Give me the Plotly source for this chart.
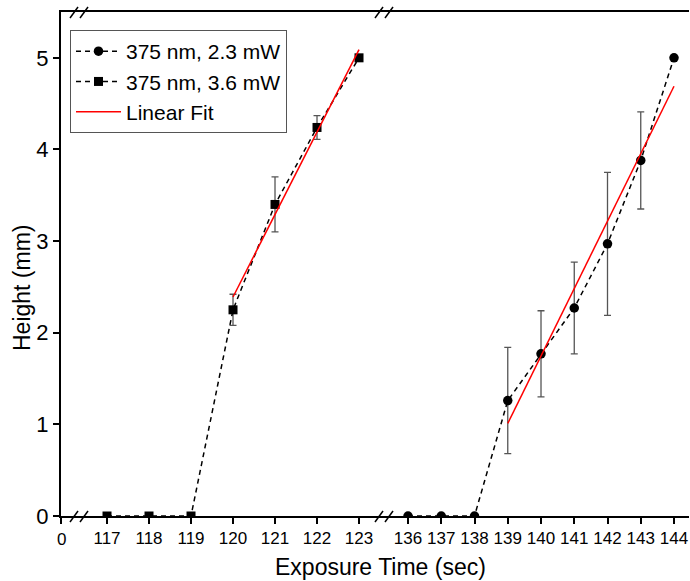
import plotly.graph_objects as go

# ---- data ----
t_36 = [117, 118, 119, 120, 121, 122, 123]
h_36 = [0, 0, 0, 2.25, 3.40, 4.24, 5.0]
e_36 = [0, 0, 0, 0.17, 0.30, 0.13, 0]

t_23 = [136, 137, 138, 139, 140, 141, 142, 143, 144]
h_23 = [0, 0, 0, 1.26, 1.77, 2.27, 2.97, 3.88, 5.0]
e_23 = [0, 0, 0, 0.58, 0.47, 0.50, 0.78, 0.53, 0]

fit_left_x = [120, 123]
fit_left_y = [2.39, 5.09]
fit_right_x = [139, 144]
fit_right_y = [1.01, 4.69]

ticks_a = [0]
ticks_b = [117, 118, 119, 120, 121, 122, 123]
ticks_c = [136, 137, 138, 139, 140, 141, 142, 143, 144]
y_ticks = [0, 1, 2, 3, 4, 5]

W, H = 690, 581
# plot area in page pixels
PL, PR, PT, PB = 61, 689, 12, 516
L, R, T, B = PL, W - PR, PT, H - PB
pw = PR - PL
ph = PB - PT


def px(xp):
    return (xp - PL) / pw


def py(yp):
    return (PB - yp) / ph


brk1 = px(79)
brk2 = px(384)

FONT = "Liberation Sans, Arial, sans-serif"
err_col = "#555555"

fig = go.Figure()

fig.add_trace(go.Scatter(
    x=t_23, y=h_23, xaxis="x3", yaxis="y", name="375 nm, 2.3 mW",
    mode="lines+markers",
    line=dict(color="black", width=1.5, dash="5px,4px"),
    marker=dict(symbol="circle", size=9.5, color="black"),
    error_y=dict(type="data", array=e_23, visible=True, color=err_col, thickness=1.3, width=3.5),
))
fig.add_trace(go.Scatter(
    x=t_36, y=h_36, xaxis="x2", yaxis="y", name="375 nm, 3.6 mW",
    mode="lines+markers",
    line=dict(color="black", width=1.5, dash="5px,4px"),
    marker=dict(symbol="square", size=9, color="black"),
    error_y=dict(type="data", array=e_36, visible=True, color=err_col, thickness=1.3, width=3.5),
))
fig.add_trace(go.Scatter(
    x=fit_left_x, y=fit_left_y, xaxis="x2", yaxis="y", name="Linear Fit",
    mode="lines", line=dict(color="red", width=1.5), legendgroup="fit",
))
fig.add_trace(go.Scatter(
    x=fit_right_x, y=fit_right_y, xaxis="x3", yaxis="y", name="Linear Fit",
    mode="lines", line=dict(color="red", width=1.5), legendgroup="fit", showlegend=False,
))

axis_common = dict(
    showline=True, linecolor="black", linewidth=2, mirror=True,
    ticks="outside", ticklen=6, tickwidth=1.5, tickcolor="black",
    showgrid=False, zeroline=False, anchor="y",
    ticklabeloverflow="allow",
    tickfont=dict(family=FONT, size=17, color="black"),
)

shapes = []
# break marks (bottom and top) at both breaks
for bx in (79, 384):
    for yc in (516.5, 12.5):
        for dx in (-5, 5):
            cx = bx + dx
            shapes.append(dict(
                type="line", xref="paper", yref="paper",
                x0=px(cx - 4), x1=px(cx + 4),
                y0=py(yc + 5.5), y1=py(yc - 5.5),
                line=dict(color="black", width=1.5),
            ))

# tick label of the short first segment (placed through that axis' scale)
seg_a_labels = [dict(
    text=str(v), xref="x", yref="paper", x=v, y=py(539),
    xanchor="center", yanchor="middle", showarrow=False,
    font=dict(family=FONT, size=17, color="black"),
) for v in ticks_a]

fig.update_layout(
    width=W, height=H,
    margin=dict(l=L, r=R, t=T, b=B, autoexpand=False),
    paper_bgcolor="white", plot_bgcolor="white",
    font=dict(family=FONT, color="black"),
    xaxis=dict(domain=[0, brk1], range=[0, 1], tickvals=ticks_a,
               **{**axis_common, "showticklabels": False}),
    xaxis2=dict(domain=[brk1, brk2], range=[116.333, 123.595], tickvals=ticks_b, **axis_common),
    xaxis3=dict(domain=[brk2, 1], range=[135.278, 144.451], tickvals=ticks_c, **axis_common),
    yaxis=dict(
        range=[0, 5.5], tickvals=y_ticks, anchor="x",
        showline=True, linecolor="black", linewidth=2,
        ticks="outside", ticklen=6, tickwidth=1.5, tickcolor="black",
        showgrid=False, zeroline=False,
        tickfont=dict(family=FONT, size=22, color="black"),
    ),
    shapes=shapes,
    annotations=seg_a_labels + [
        dict(
            text="Exposure Time (sec)", xref="paper", yref="paper",
            x=px(380), y=py(567),
            xanchor="center", yanchor="middle", showarrow=False,
            font=dict(family=FONT, size=23, color="black"),
        ),
        dict(
            text="Height (mm)", xref="paper", yref="paper",
            x=px(22), y=py(288), textangle=-90,
            xanchor="center", yanchor="middle", showarrow=False,
            font=dict(family=FONT, size=23, color="black"),
        ),
    ],
    legend=dict(
        x=px(70), y=py(30),
        xanchor="left", yanchor="top",
        bordercolor="#555555", borderwidth=1, bgcolor="white",
        font=dict(family=FONT, size=21, color="black"),
        itemwidth=45, tracegroupgap=0,
    ),
    showlegend=True,
)

fig.write_html(
    "out.html",
    config={"displayModeBar": False},
    post_script="document.body.style.margin='0';document.body.style.overflow='hidden';"
                "document.documentElement.style.overflow='hidden';",
)
